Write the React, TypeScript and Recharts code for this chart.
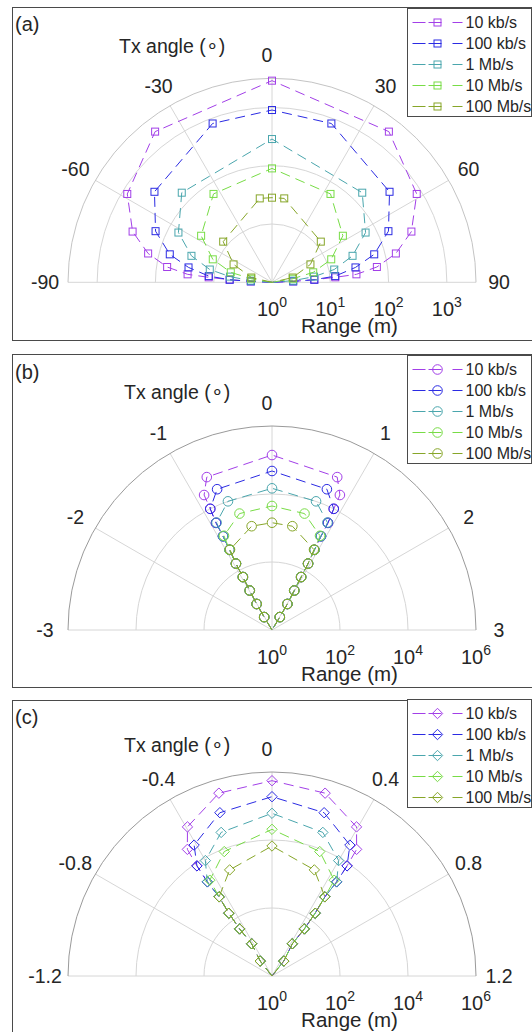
import React from "react";
import {
  ScatterChart,
  Scatter,
  XAxis,
  YAxis,
  ReferenceLine,
  ReferenceDot,
} from "recharts";

type Pt = [number, number]; // [Tx angle (deg), range (m)]

const RATE_NAMES = ["10 kb/s", "100 kb/s", "1 Mb/s", "10 Mb/s", "100 Mb/s"];
const RATE_COLORS = ["#a23fe8", "#2b2be3", "#4aa6ad", "#78dc46", "#87a629"];

// ---- panel (a) ----
const A_10K: Pt[] = [
  [-90, 1], [-87.5, 2.31], [-86.5, 5.34], [-85.5, 12.3], [-84.6, 28.5], [-81.7, 65.8],
  [-76.9, 152], [-70, 351], [-58.6, 811], [-37.8, 1870], [0, 2880], [37.8, 1870],
  [58.6, 811], [70, 351], [76.9, 152], [81.7, 65.8], [84.6, 28.5], [85.5, 12.3],
  [86.5, 5.34], [87.5, 2.31], [90, 1],
];
const A_100K: Pt[] = [
  [-90, 1], [-87.5, 2.31], [-86.5, 5.34], [-84.4, 12.3], [-79.9, 28.5], [-74.7, 65.8],
  [-66.3, 152], [-52.4, 351], [-20.5, 811], [0, 903], [20.5, 811], [52.4, 351],
  [66.3, 152], [74.7, 65.8], [79.9, 28.5], [84.4, 12.3], [86.5, 5.34], [87.5, 2.31], [90, 1],
];
const A_1M: Pt[] = [
  [-90, 1], [-85.6, 2.31], [-82.3, 5.34], [-78.4, 12.3], [-71.8, 28.5], [-62, 65.8],
  [-45.2, 152], [0, 287], [45.2, 152], [62, 65.8], [71.8, 28.5], [78.4, 12.3],
  [82.3, 5.34], [85.6, 2.31], [90, 1],
];
const A_10M: Pt[] = [
  [-90, 1], [-80.3, 2.31], [-76.4, 5.34], [-68.8, 12.3], [-56.7, 28.5], [-33.5, 65.8],
  [0, 90], [33.5, 65.8], [56.7, 28.5], [68.8, 12.3], [76.4, 5.34], [80.3, 2.31], [90, 1],
];
const A_100M: Pt[] = [
  [-90, 1], [-77, 2.31], [-65, 5.34], [-50.2, 12.3], [-8.3, 28.5], [0, 28.3],
  [8.3, 28.5], [50.2, 12.3], [65, 5.34], [77, 2.31], [90, 1],
];
const A_ANGLE_TICKS = [-90, -60, -30, 0, 30, 60, 90];
const A_ANGLE_LABELS = ["-90", "-60", "-30", "0", "30", "60", "90"];
const A_RANGE_EXP = [0, 1, 2, 3];

// ---- panel (b) ----
const B_10K: Pt[] = [
  [-3, 1], [-1.04, 2.78], [-1.02, 7.74], [-0.98, 21.5], [-0.96, 59.9], [-0.95, 167],
  [-0.93, 464], [-0.92, 1290], [-0.92, 3590], [-0.9, 10000], [-0.89, 27800], [-0.77, 77400],
  [0, 140000],
  [0.77, 77400], [0.89, 27800], [0.9, 10000], [0.92, 3590], [0.92, 1290], [0.93, 464],
  [0.95, 167], [0.96, 59.9], [0.98, 21.5], [1.02, 7.74], [1.04, 2.78], [3, 1],
];
const B_100K: Pt[] = [
  [-3, 1], [-1.04, 2.78], [-1.02, 7.74], [-0.98, 21.5], [-0.96, 59.9], [-0.95, 167],
  [-0.93, 464], [-0.92, 1290], [-0.92, 3590], [-0.9, 10000], [-0.71, 27800], [0, 47500],
  [0.71, 27800], [0.9, 10000], [0.92, 3590], [0.92, 1290], [0.93, 464], [0.95, 167],
  [0.96, 59.9], [0.98, 21.5], [1.02, 7.74], [1.04, 2.78], [3, 1],
];
const B_1M: Pt[] = [
  [-3, 1], [-1.04, 2.78], [-1.02, 7.74], [-0.98, 21.5], [-0.96, 59.9], [-0.95, 167],
  [-0.93, 464], [-0.92, 1290], [-0.91, 3590], [-0.63, 10000], [0, 14700], [0.63, 10000],
  [0.91, 3590], [0.92, 1290], [0.93, 464], [0.95, 167], [0.96, 59.9], [0.98, 21.5],
  [1.02, 7.74], [1.04, 2.78], [3, 1],
];
const B_10M: Pt[] = [
  [-3, 1], [-1.04, 2.78], [-1.02, 7.74], [-0.98, 21.5], [-0.96, 59.9], [-0.95, 167],
  [-0.93, 464], [-0.9, 1290], [-0.52, 3590], [0, 4440], [0.52, 3590], [0.9, 1290],
  [0.93, 464], [0.95, 167], [0.96, 59.9], [0.98, 21.5], [1.02, 7.74], [1.04, 2.78], [3, 1],
];
const B_100M: Pt[] = [
  [-3, 1], [-1.04, 2.78], [-1.02, 7.74], [-0.98, 21.5], [-0.96, 59.9], [-0.95, 167],
  [-0.92, 464], [-0.37, 1290], [0, 1430], [0.37, 1290], [0.92, 464], [0.95, 167],
  [0.96, 59.9], [0.98, 21.5], [1.02, 7.74], [1.04, 2.78], [3, 1],
];
const B_ANGLE_TICKS = [-3, -2, -1, 0, 1, 2, 3];
const B_ANGLE_LABELS = ["-3", "-2", "-1", "0", "1", "2", "3"];
const B_RANGE_EXP = [0, 2, 4, 6];

// ---- panel (c) ----
const C_10K: Pt[] = [
  [-1.2, 1], [-0.51, 3.63], [-0.43, 13.2], [-0.46, 47.9], [-0.46, 174], [-0.45, 631],
  [-0.46, 2290], [-0.457, 8320], [-0.45, 30200], [-0.394, 110000], [-0.216, 398000],
  [0, 555000],
  [0.216, 398000], [0.394, 110000], [0.45, 30200], [0.457, 8320], [0.46, 2290],
  [0.45, 631], [0.46, 174], [0.46, 47.9], [0.43, 13.2], [0.51, 3.63], [1.2, 1],
];
const C_100K: Pt[] = [
  [-1.2, 1], [-0.51, 3.63], [-0.43, 13.2], [-0.46, 47.9], [-0.46, 174], [-0.45, 631],
  [-0.46, 2290], [-0.457, 8320], [-0.41, 30200], [-0.236, 110000], [0, 188000],
  [0.236, 110000], [0.41, 30200], [0.457, 8320], [0.46, 2290], [0.45, 631],
  [0.46, 174], [0.46, 47.9], [0.43, 13.2], [0.51, 3.63], [1.2, 1],
];
const C_1M: Pt[] = [
  [-1.2, 1], [-0.51, 3.63], [-0.43, 13.2], [-0.46, 47.9], [-0.46, 174], [-0.45, 631],
  [-0.46, 2290], [-0.4, 8320], [-0.26, 30200], [0, 61000], [0.26, 30200], [0.4, 8320],
  [0.46, 2290], [0.45, 631], [0.46, 174], [0.46, 47.9], [0.43, 13.2], [0.51, 3.63], [1.2, 1],
];
const C_10M: Pt[] = [
  [-1.2, 1], [-0.51, 3.63], [-0.43, 13.2], [-0.46, 47.9], [-0.46, 174], [-0.45, 631],
  [-0.44, 2290], [-0.28, 8320], [0, 20600], [0.28, 8320], [0.44, 2290], [0.45, 631],
  [0.46, 174], [0.46, 47.9], [0.43, 13.2], [0.51, 3.63], [1.2, 1],
];
const C_100M: Pt[] = [
  [-1.2, 1], [-0.51, 3.63], [-0.43, 13.2], [-0.46, 47.9], [-0.46, 174], [-0.45, 631],
  [-0.29, 2290], [0, 6660], [0.29, 2290], [0.45, 631], [0.46, 174], [0.46, 47.9],
  [0.43, 13.2], [0.51, 3.63], [1.2, 1],
];
const C_ANGLE_TICKS = [-1.2, -0.8, -0.4, 0, 0.4, 0.8, 1.2];
const C_ANGLE_LABELS = ["-1.2", "-0.8", "-0.4", "0", "0.4", "0.8", "1.2"];
const C_RANGE_EXP = [0, 2, 4, 6];

// ---- layout ----
const PAGE_W = 532;
const PAGE_H = 1032;
const CX = 272;
const R = 204;
const FONT = '"Liberation Sans", Arial, Helvetica, sans-serif';
const TEXT = "#262626";
const GRID = "#d6d6d6";
const DASH = "10 6";

type Marker = "square" | "circle" | "diamond";

interface PanelCfg {
  tag: string;
  top: number;
  height: number;
  cy: number;
  frameTop: number;
  frameHeight: number;
  angleMax: number;
  angleTicks: number[];
  angleLabels: string[];
  rMax: number;
  rings: number[];
  rExps: number[];
  series: Pt[][];
  marker: Marker;
  tagTop: number;
  titleLeft: number;
  titleTop: number;
  legendTop: number;
  outerColor: string;
}

const PANELS: PanelCfg[] = [
  {
    tag: "(a)", top: 0, height: 346, cy: 282.3, frameTop: 6.5, frameHeight: 334.5,
    angleMax: 90, angleTicks: A_ANGLE_TICKS, angleLabels: A_ANGLE_LABELS,
    rMax: 3.5, rings: [1, 2, 3, 3.5], rExps: A_RANGE_EXP,
    series: [A_10K, A_100K, A_1M, A_10M, A_100M], marker: "square",
    tagTop: 14, titleLeft: 119, titleTop: 36.2, legendTop: 8, outerColor: "#c4c4c4",
  },
  {
    tag: "(b)", top: 346, height: 346, cy: 284, frameTop: 354, frameHeight: 334.3,
    angleMax: 3, angleTicks: B_ANGLE_TICKS, angleLabels: B_ANGLE_LABELS,
    rMax: 6, rings: [2, 4, 6], rExps: B_RANGE_EXP,
    series: [B_10K, B_100K, B_1M, B_10M, B_100M], marker: "circle",
    tagTop: 361.8, titleLeft: 124, titleTop: 381.9, legendTop: 355, outerColor: "#9a9a9a",
  },
  {
    tag: "(c)", top: 692, height: 340, cy: 284, frameTop: 700, frameHeight: 345,
    angleMax: 1.2, angleTicks: C_ANGLE_TICKS, angleLabels: C_ANGLE_LABELS,
    rMax: 6, rings: [2, 4, 6], rExps: C_RANGE_EXP,
    series: [C_10K, C_100K, C_1M, C_10M, C_100M], marker: "diamond",
    tagTop: 707.4, titleLeft: 124, titleTop: 735.2, legendTop: 699, outerColor: "#9a9a9a",
  },
];

function toXY(series: Pt[], angleMax: number) {
  return series.map(([a, range]) => {
    const d = Math.log10(range);
    const phi = (a / angleMax) * (Math.PI / 2);
    return { x: d * Math.sin(phi), y: d * Math.cos(phi), range };
  });
}

function drawMarker(kind: Marker, cx: number, cy: number, color: string) {
  if (kind === "square") {
    return <rect x={cx - 3.5} y={cy - 3.5} width={7} height={7} fill="none" stroke={color} strokeWidth={1} />;
  }
  if (kind === "circle") {
    return <circle cx={cx} cy={cy} r={4.8} fill="none" stroke={color} strokeWidth={1} />;
  }
  return (
    <path
      d={`M${cx},${cy - 5.2} L${cx + 5.2},${cy} L${cx},${cy + 5.2} L${cx - 5.2},${cy} Z`}
      fill="none"
      stroke={color}
      strokeWidth={1}
    />
  );
}

function Legend({ top, marker }: { top: number; marker: Marker }) {
  return (
    <div
      style={{
        position: "absolute",
        left: 407,
        top,
        width: 125,
        height: 109,
        boxSizing: "border-box",
        border: "1px solid #4a4a4a",
        background: "#fff",
      }}
    >
      {RATE_NAMES.map((name, i) => (
        <div key={name} style={{ position: "absolute", left: 0, top: 2.5 + i * 21.2, height: 21, width: 124 }}>
          <svg width={56} height={21} style={{ position: "absolute", left: 0, top: 0 }}>
            <line x1={4.5} x2={54.5} y1={10.5} y2={10.5} stroke={RATE_COLORS[i]} strokeWidth={1} strokeDasharray="13 3 13 11 10" />
            {drawMarker(marker, 29.5, 10.5, RATE_COLORS[i])}
          </svg>
          <span
            style={{
              position: "absolute",
              left: 57.5,
              top: 0,
              fontFamily: FONT,
              fontSize: 16,
              lineHeight: "21px",
              color: TEXT,
              whiteSpace: "nowrap",
            }}
          >
            {name}
          </span>
        </div>
      ))}
    </div>
  );
}

function PolarPanel({ p }: { p: PanelCfg }) {
  const ppd = R / p.rMax;
  const xDomain = [-CX / ppd, (PAGE_W - CX) / ppd];
  const yDomain = [-(p.height - p.cy) / ppd, p.cy / ppd];
  const labelR = (227 / R) * p.rMax;
  const toRad = (a: number) => (a / p.angleMax) * (Math.PI / 2);

  return (
    <div style={{ position: "absolute", left: 0, top: p.top, width: PAGE_W, height: p.height }}>
      <ScatterChart width={PAGE_W} height={p.height} margin={{ top: 0, right: 0, bottom: 0, left: 0 }}>
        <XAxis type="number" dataKey="x" domain={xDomain} hide allowDataOverflow />
        <YAxis type="number" dataKey="y" domain={yDomain} hide allowDataOverflow />

        {p.angleTicks.map((a) => (
          <ReferenceLine
            key={`spoke-${a}`}
            segment={[
              { x: 0, y: 0 },
              { x: p.rMax * Math.sin(toRad(a)), y: p.rMax * Math.cos(toRad(a)) },
            ]}
            stroke={GRID}
            strokeWidth={1}
            ifOverflow="visible"
          />
        ))}

        {p.rings.map((d, i) => {
          const r = d * ppd;
          const outer = i === p.rings.length - 1;
          return (
            <ReferenceDot
              key={`ring-${d}`}
              x={0}
              y={0}
              r={r}
              ifOverflow="visible"
              shape={(s: any) => (
                <path
                  d={`M${s.cx - r},${s.cy} A${r},${r} 0 0 1 ${s.cx + r},${s.cy}`}
                  fill="none"
                  stroke={outer ? p.outerColor : GRID}
                  strokeWidth={1}
                />
              )}
            />
          );
        })}

        {p.angleTicks.map((a, i) => (
          <ReferenceDot
            key={`alabel-${a}`}
            x={labelR * Math.sin(toRad(a))}
            y={labelR * Math.cos(toRad(a))}
            ifOverflow="visible"
            shape={(s: any) => (
              <text
                x={s.cx + (a === 0 ? -5 : 0)}
                y={s.cy + 7}
                textAnchor="middle"
                fontFamily={FONT}
                fontSize={19.5}
                fill={TEXT}
              >
                {p.angleLabels[i]}
              </text>
            )}
          />
        ))}

        {p.rExps.map((e) => (
          <ReferenceDot
            key={`rlabel-${e}`}
            x={e}
            y={-26.5 / ppd}
            ifOverflow="visible"
            shape={(s: any) => (
              <text x={s.cx} y={s.cy + 7.2} textAnchor="middle" fontFamily={FONT} fontSize={20} fill={TEXT}>
                <tspan>10</tspan>
                <tspan dy={-9} fontSize={14}>
                  {e}
                </tspan>
              </text>
            )}
          />
        ))}

        <ReferenceDot
          x={(349.5 - CX) / ppd}
          y={-50.5 / ppd}
          ifOverflow="visible"
          shape={(s: any) => (
            <text x={s.cx} y={s.cy} textAnchor="middle" fontFamily={FONT} fontSize={20.5} fill={TEXT}>
              Range (m)
            </text>
          )}
        />

        {p.series.map((ser, i) => {
          const color = RATE_COLORS[i];
          return (
            <Scatter
              key={RATE_NAMES[i]}
              name={RATE_NAMES[i]}
              data={toXY(ser, p.angleMax)}
              fill="none"
              stroke={color}
              isAnimationActive={false}
              line={{ stroke: color, strokeWidth: 1, strokeDasharray: DASH }}
              lineType="joint"
              shape={(s: any) =>
                s.payload && s.payload.range <= 1 ? <g /> : drawMarker(p.marker, s.cx, s.cy, color)
              }
            />
          );
        })}
      </ScatterChart>
    </div>
  );
}

export default function App() {
  return (
    <div
      style={{
        position: "absolute",
        left: 0,
        top: 0,
        width: PAGE_W,
        height: PAGE_H,
        overflow: "hidden",
        background: "#fff",
      }}
    >
      {PANELS.map((p) => (
        <div
          key={`frame-${p.tag}`}
          style={{
            position: "absolute",
            left: 12,
            top: p.frameTop,
            width: 540,
            height: p.frameHeight,
            boxSizing: "border-box",
            border: "1px solid #4a4a4a",
          }}
        />
      ))}
      {PANELS.map((p) => (
        <PolarPanel key={p.tag} p={p} />
      ))}
      {PANELS.map((p) => (
        <React.Fragment key={`text-${p.tag}`}>
          <div
            style={{
              position: "absolute",
              left: 15,
              top: p.tagTop,
              fontFamily: FONT,
              fontSize: 20,
              lineHeight: "20px",
              color: TEXT,
            }}
          >
            {p.tag}
          </div>
          <div
            style={{
              position: "absolute",
              left: p.titleLeft,
              top: p.titleTop,
              fontFamily: FONT,
              fontSize: 19.5,
              lineHeight: "20px",
              color: TEXT,
              whiteSpace: "nowrap",
            }}
          >
            Tx angle (∘)
          </div>
          <Legend top={p.legendTop} marker={p.marker} />
        </React.Fragment>
      ))}
    </div>
  );
}
